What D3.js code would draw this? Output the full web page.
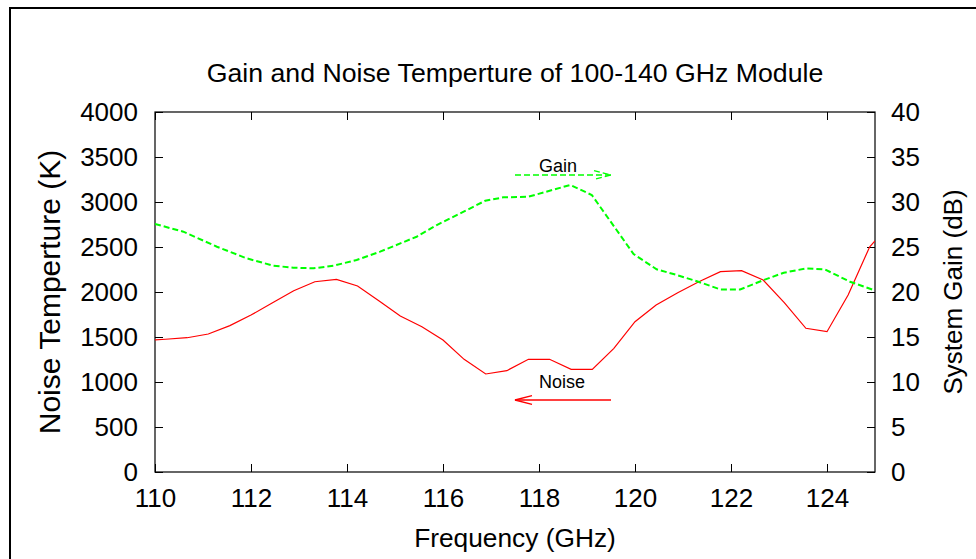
<!DOCTYPE html>
<html>
<head>
<meta charset="utf-8">
<script src="https://cdn.jsdelivr.net/npm/d3@7"></script>
<style>
  body { margin: 0; background: #fff; }
  text { font-family: Arial, "Liberation Sans", sans-serif; fill: #000; }
</style>
</head>
<body>
<div id="chart"></div>
<script>
// Frequencies (GHz) and noise temperature (K)
const noiseFreq = [110.0, 110.22, 110.67, 111.11, 111.56, 112.0, 112.44, 112.89, 113.33, 113.78,
                   114.22, 114.67, 115.11, 115.56, 116.0, 116.44, 116.89, 117.33, 117.78, 118.22,
                   118.67, 119.11, 119.56, 120.0, 120.44, 120.89, 121.33, 121.78, 122.22, 122.67,
                   123.11, 123.56, 124.0, 124.44, 124.89, 125.0];
const noiseTemp = [1467, 1475, 1492, 1533, 1626, 1744, 1878, 2014, 2114, 2141,
                   2067, 1900, 1733, 1614, 1467, 1252, 1089, 1126, 1252, 1252,
                   1141, 1141, 1374, 1670, 1856, 1992, 2114, 2226, 2237, 2133,
                   1881, 1597, 1559, 1967, 2503, 2567];

// Frequencies (GHz) and system gain (dB)
const gainFreq = [110.0, 110.59, 111.29, 111.91, 112.47, 112.88, 113.30, 113.72, 114.20, 114.69,
                  115.45, 115.87, 116.43, 116.88, 117.26, 117.78, 118.65, 119.10, 119.97, 120.45,
                  120.87, 121.32, 121.78, 122.19, 122.68, 123.10, 123.57, 123.96, 124.48, 124.97];
const gainDb = [27.56, 26.7, 25.03, 23.74, 22.92, 22.7, 22.63, 22.92, 23.56, 24.48,
                26.14, 27.44, 28.92, 30.14, 30.52, 30.59, 31.89, 30.78, 24.22, 22.52,
                21.89, 21.14, 20.28, 20.28, 21.33, 22.14, 22.63, 22.5, 21.14, 20.22];

// Tick labels
const xTicks = [110, 112, 114, 116, 118, 120, 122, 124];
const yTicks = [0, 500, 1000, 1500, 2000, 2500, 3000, 3500, 4000];
const y2Ticks = [0, 5, 10, 15, 20, 25, 30, 35, 40];

// Annotations: arrows [x1, x2] at level, label anchor
const gainArrow = { x: [117.5, 119.5], v: 33, label: "Gain", lx: 118, lv: 33.3 };
const noiseArrow = { x: [119.5, 117.5], v: 800, label: "Noise", lx: 118, lv: 930 };

const W = 976, H = 559;
const margin = {top: 112, right: 101, bottom: 87, left: 155},
      width = W - margin.left - margin.right,
      height = H - margin.top - margin.bottom;

const svg = d3.select("#chart")
    .append("svg")
    .attr("width", W)
    .attr("height", H);

// outer frame (runs off the right and bottom edges)
svg.append("rect")
    .attr("x", 10).attr("y", 8)
    .attr("width", 1000).attr("height", 600)
    .attr("fill", "none")
    .attr("stroke", "#000")
    .attr("stroke-width", 2);

const g = svg.append("g")
    .attr("transform", `translate(${margin.left},${margin.top})`);

const x = d3.scaleLinear().domain([110, 125]).range([0, width]);
const y = d3.scaleLinear().domain([0, 4000]).range([height, 0]);
const y2 = d3.scaleLinear().domain([0, 40]).range([height, 0]);

// axes with inward ticks
const fs = 26;
g.append("g")
    .attr("transform", `translate(0,${height})`)
    .call(d3.axisBottom(x).tickValues(xTicks).tickFormat(d3.format("d"))
        .tickSizeInner(-8).tickSizeOuter(0).tickPadding(17));
g.append("g")
    .call(d3.axisTop(x).tickValues(xTicks).tickFormat("")
        .tickSizeInner(-8).tickSizeOuter(0));
g.append("g")
    .call(d3.axisLeft(y).tickValues(yTicks).tickFormat(d3.format("d"))
        .tickSizeInner(-8).tickSizeOuter(0).tickPadding(17));
g.append("g")
    .attr("transform", `translate(${width},0)`)
    .call(d3.axisRight(y2).tickValues(y2Ticks).tickFormat(d3.format("d"))
        .tickSizeInner(-8).tickSizeOuter(0).tickPadding(16));

g.selectAll(".domain").remove();
g.selectAll(".tick line").attr("stroke", "#000").attr("stroke-width", 1);
g.selectAll(".tick text")
    .attr("font-family", "Arial, 'Liberation Sans', sans-serif")
    .attr("font-size", fs)
    .attr("fill", "#000");

// plot border
g.append("rect")
    .attr("width", width).attr("height", height)
    .attr("fill", "none")
    .attr("stroke", "#000")
    .attr("stroke-width", 1.2);

// clip
g.append("clipPath").attr("id", "clip")
    .append("rect").attr("width", width).attr("height", height);

const plot = g.append("g").attr("clip-path", "url(#clip)");

const noiseLine = d3.line()
    .x((d, i) => x(noiseFreq[i]))
    .y(d => y(d));
plot.append("path")
    .datum(noiseTemp)
    .attr("d", noiseLine)
    .attr("fill", "none")
    .attr("stroke", "#ff0000")
    .attr("stroke-width", 1.2);

const gainLine = d3.line()
    .x((d, i) => x(gainFreq[i]))
    .y(d => y2(d));
plot.append("path")
    .datum(gainDb)
    .attr("d", gainLine)
    .attr("fill", "none")
    .attr("stroke", "#00ff00")
    .attr("stroke-width", 2)
    .attr("stroke-dasharray", "6,3");

// arrows with open heads
function arrow(a, yScale, color, sw, dash) {
    const x1 = x(a.x[0]), x2 = x(a.x[1]), yy = yScale(a.v);
    const dir = x2 > x1 ? 1 : -1;
    const head = `M${x2 - dir * 17},${yy - 4.3}L${x2},${yy}L${x2 - dir * 17},${yy + 4.3}`;
    const grp = g.append("g")
        .attr("fill", "none")
        .attr("stroke", color)
        .attr("stroke-width", sw)
        .attr("stroke-dasharray", dash);
    grp.append("path").attr("d", `M${x1},${yy}L${x2},${yy}`);
    grp.append("path").attr("d", head);
    g.append("text")
        .attr("x", x(a.lx))
        .attr("y", yScale(a.lv))
        .attr("font-size", 18)
        .text(a.label);
}
arrow(gainArrow, y2, "#00ff00", 1.3, "6,3");
arrow(noiseArrow, y, "#ff0000", 1.3, null);

// title and axis labels
svg.append("text")
    .attr("x", margin.left + width / 2)
    .attr("y", 82)
    .attr("text-anchor", "middle")
    .attr("font-size", 26.7)
    .text("Gain and Noise Temperture of 100-140 GHz Module");

svg.append("text")
    .attr("x", margin.left + width / 2)
    .attr("y", 547)
    .attr("text-anchor", "middle")
    .attr("font-size", 26.3)
    .text("Frequency (GHz)");

svg.append("text")
    .attr("transform", `translate(60,${margin.top + height / 2}) rotate(-90)`)
    .attr("text-anchor", "middle")
    .attr("font-size", 30)
    .text("Noise Temperture (K)");

svg.append("text")
    .attr("transform", `translate(962,${margin.top + height / 2}) rotate(-90)`)
    .attr("text-anchor", "middle")
    .attr("font-size", 26)
    .text("System Gain (dB)");
</script>
</body>
</html>
